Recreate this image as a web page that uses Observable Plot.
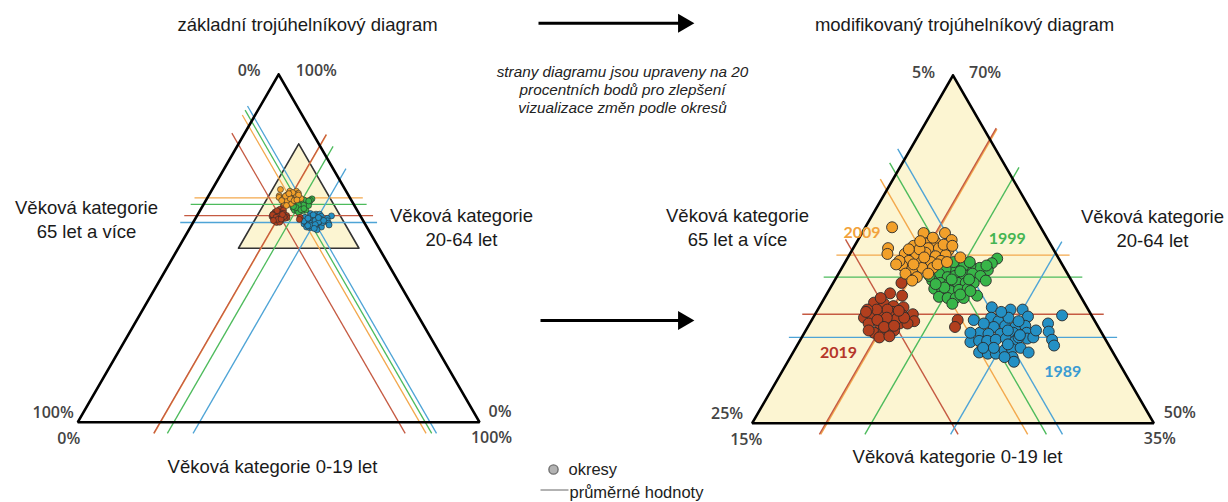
<!DOCTYPE html>
<html>
<head>
<meta charset="utf-8">
<script src="https://cdn.jsdelivr.net/npm/d3@7"></script>
<script src="https://cdn.jsdelivr.net/npm/@observablehq/plot@0.6"></script>
<style>
  html, body { margin: 0; padding: 0; background: #fff; }
  #chart { width: 1228px; height: 502px; }
</style>
</head>
<body>
<div id="chart"></div>
<script>
// ---------- DATA (percent of population: [0-19 let, 20-64 let]; 65+ = 100 - both) ----------
const years = ["1989", "1999", "2009", "2019"];
const okresy1989 = [[27.9,60.0],[29.4,59.8],[30.3,59.8],[31.0,59.2],[33.5,59.3],[32.8,58.6],[33.2,57.9],[33.8,57.2],[34.2,56.7],[27.1,58.9],[28.3,59.1],[29.0,58.8],[29.7,58.4],[30.5,58.3],[31.2,58.4],[28.9,58.3],[28.1,57.8],[28.8,57.7],[29.7,57.7],[30.6,57.8],[31.6,57.8],[27.8,57.0],[28.4,57.1],[29.0,57.1],[29.6,57.2],[30.3,57.3],[31.1,57.1],[31.9,57.3],[28.9,56.1],[29.6,56.0],[30.2,56.0],[30.7,56.3],[31.2,56.4],[31.8,56.5],[32.6,56.1],[31.6,55.7],[31.9,55.3],[29.8,56.5],[32.3,57.4],[27.4,57.8],[29.6,59.1],[31.2,57.4],[28.8,59.6],[28.0,58.6],[30.1,58.0],[31.2,57.6],[30.7,56.8],[29.0,56.5],[32.2,58.0],[31.0,55.7],[30.5,58.8]];
const okresy1999 = [[26.2,64.2],[26.0,63.8],[26.0,63.2],[25.3,63.4],[24.5,63.6],[24.0,63.5],[23.4,63.4],[22.8,63.3],[22.5,62.9],[23.3,62.6],[23.8,62.7],[24.4,62.8],[25.0,62.9],[25.7,62.7],[22.3,62.3],[23.0,62.1],[23.7,62.0],[24.3,62.1],[24.9,62.1],[25.5,62.1],[22.8,61.6],[23.5,61.4],[24.1,61.4],[24.7,61.5],[25.3,61.6],[26.3,61.0],[23.5,60.9],[24.2,60.8],[24.8,60.8],[25.4,60.8],[24.8,60.3],[24.3,63.9],[21.9,62.7],[26.3,62.3],[24.0,63.1],[25.0,62.4],[23.7,62.4],[23.5,61.7],[25.0,61.1],[25.6,61.4],[22.7,62.0],[25.7,63.6],[23.1,63.9]];
const okresy2009 = [[17.0,66.9],[17.6,65.1],[17.8,64.6],[19.6,66.4],[21.2,66.4],[22.0,65.8],[20.8,65.7],[20.2,65.5],[19.4,65.3],[20.6,65.1],[21.4,65.1],[22.2,64.9],[19.1,64.6],[20.0,64.5],[20.6,64.7],[21.5,64.4],[22.2,64.5],[23.4,64.3],[19.7,64.0],[20.7,63.9],[21.4,63.9],[22.1,64.0],[19.4,63.6],[20.3,63.3],[21.0,63.4],[21.8,63.4],[20.0,62.9],[21.0,62.6],[21.7,62.9],[20.0,65.0],[19.0,64.0],[21.6,65.4],[20.2,63.7],[20.7,64.3],[20.5,66.0],[19.2,65.0],[22.3,65.3],[18.9,63.7],[22.0,63.7],[20.8,62.3],[22.6,63.9],[19.7,65.7]];
const okresy2019 = [[20.1,62.1],[19.7,61.2],[20.7,61.0],[18.9,60.4],[19.7,60.3],[20.5,60.1],[21.3,60.0],[22.3,59.4],[22.7,58.8],[18.8,59.1],[19.3,59.3],[20.0,59.4],[20.7,59.6],[21.6,59.3],[19.4,58.6],[20.2,58.6],[20.9,58.7],[21.7,58.6],[22.3,58.6],[20.2,57.8],[20.9,57.8],[21.6,58.0],[20.8,57.4],[21.5,57.5],[25.9,58.9],[26.0,58.3],[20.2,59.8],[19.4,59.8],[21.3,59.0],[18.7,59.8],[19.2,60.8],[18.7,59.6],[20.5,59.1],[19.9,58.9],[21.8,59.1],[20.7,58.3],[21.4,58.4],[19.7,58.0],[21.1,59.7]];
// average values (průměrné hodnoty)
const meanChildren = [30.3, 23.9, 20.6, 20.5];
const meanWorking  = [57.4, 62.6, 64.5, 59.4];
// year label anchor points (in the same percent space)
const labelChildren = [36.0, 26.1, 15.0, 18.4];
const labelWorking  = [54.4, 65.9, 66.4, 56.1];
// corner tick labels
const basicTicks    = ["0%", "100%", "100%", "0%", "0%", "100%"];
const modifiedTicks = ["5%", "70%", "25%", "15%", "50%", "35%"];

// ---------- STYLE / LAYOUT ----------
const dotFill   = {"1989": "#2490c4", "1999": "#38b548", "2009": "#f2a02a", "2019": "#b13f1e"};
const lineColor = {"1989": "#4ea4d6", "1999": "#4dbb5c", "2009": "#f3a84c", "2019": "#c55a42"};
const textColor = {"1989": "#3a9bd2", "1999": "#45b552", "2009": "#f2a23c", "2019": "#b5362a"};
const W = 1228, H = 502;
const triBasic = {x0: 77.3, y0: 421.7, side: 401.7, cMin: 0, wMin: 0, eMin: 0, range: 100, r: 3};
const triMod   = {x0: 751.7, y0: 422.7, side: 401.6, cMin: 15, wMin: 50, eMin: 5, range: 30, r: 5.5};
const SQ = Math.sqrt(3) / 2;

function proj(t, c, w) {
  const cp = (c - t.cMin) / t.range, wp = (w - t.wMin) / t.range;
  return {x: t.x0 + t.side * (cp + wp / 2), y: t.y0 - t.side * SQ * wp};
}
function triVerts(t) {
  const top = t.wMin + t.range, eMax = t.eMin + t.range, cMax = t.cMin + t.range;
  return [proj(t, t.cMin, top), proj(t, t.cMin, 100 - t.cMin - eMax), proj(t, cMax, 100 - cMax - t.eMin), proj(t, t.cMin, top)];
}
// mean lines: constant working, constant elderly, constant children; extended slightly past the edges
function meanLines(t, i) {
  const ext = 0.032 * t.range;
  const c = meanChildren[i], w = meanWorking[i], e = 100 - c - w;
  const segs = [];
  segs.push([proj(t, t.cMin - ext, w), proj(t, 100 - w - (t.eMin - ext), w)]);
  { const c1 = t.cMin - ext, w1 = 100 - e - c1; const w2 = t.wMin - ext, c2 = 100 - e - w2;
    segs.push([proj(t, c1, w1), proj(t, c2, w2)]); }
  { const w1 = t.wMin - ext; const e2 = t.eMin - ext, w2 = 100 - c - e2;
    segs.push([proj(t, c, w1), proj(t, c, w2)]); }
  return segs.map(([a, b]) => ({x1: a.x, y1: a.y, x2: b.x, y2: b.y}));
}
const okresy = {"1989": okresy1989, "1999": okresy1999, "2009": okresy2009, "2019": okresy2019};
const drawOrder = ["1989", "1999", "2019", "2009"];
const lineOrder = ["2009", "2019", "1999", "1989"];

const marks = [];
marks.push(Plot.line(triVerts(triMod), {x: "x", y: "y", fill: "#fcf5d2", stroke: "none"}));
const innerVerts = (() => { const t = triBasic; return [proj(t, 15, 80), proj(t, 15, 50), proj(t, 45, 50), proj(t, 15, 80)]; })();
marks.push(Plot.line(innerVerts, {x: "x", y: "y", fill: "#fcf5d2", stroke: "#333", strokeWidth: 1.6}));

for (const t of [triBasic, triMod]) {
  for (const y of lineOrder) {
    const i = years.indexOf(y);
    marks.push(Plot.link(meanLines(t, i), {x1: "x1", y1: "y1", x2: "x2", y2: "y2", stroke: lineColor[y], strokeWidth: t === triMod ? 1.4 : 1.3}));
  }
  for (const y of drawOrder) {
    const pts = okresy[y].map(([c, w]) => proj(t, c, w));
    marks.push(Plot.dot(pts, {x: "x", y: "y", r: t.r, fill: dotFill[y], stroke: "#2a2a2a", strokeWidth: t === triMod ? 0.9 : 0.6}));
  }
  marks.push(Plot.line(triVerts(t), {x: "x", y: "y", stroke: "#000", strokeWidth: 2.6, strokeLinejoin: "miter"}));
}
// year labels
marks.push(Plot.text(years.map((y, i) => ({...proj(triMod, labelChildren[i], labelWorking[i]), y0: y})),
  {x: "x", y: "y", text: "y0", fill: d => textColor[d.y0], fontSize: 16, fontWeight: "bold", fontFamily: "Lato, 'Open Sans', sans-serif"}));

// corner tick labels
function cornerLabels(t, labels, off) {
  const v = triVerts(t);
  const apex = v[0], bl = v[1], br = v[2];
  return [
    {x: apex.x - off.apexL, y: apex.y - 3, text: labels[0], anchor: "end"},
    {x: apex.x + off.apexR, y: apex.y - 3, text: labels[1], anchor: "start"},
    {x: bl.x - off.blU, y: bl.y - 9, text: labels[2], anchor: "end"},
    {x: bl.x - off.blL, y: bl.y + 17, text: labels[3], anchor: "middle"},
    {x: br.x + off.brU, y: br.y - 10, text: labels[4], anchor: "start"},
    {x: br.x + off.brL, y: br.y + 16, text: labels[5], anchor: "middle"}
  ];
}
const corners = [
  ...cornerLabels(triBasic, basicTicks, {apexL: 18, apexR: 17, blU: 4, blL: 9, brU: 9, brL: 12}),
  ...cornerLabels(triMod, modifiedTicks, {apexL: 18, apexR: 16, blU: 9, blL: 6, brU: 10, brL: 6})
];
for (const a of ["start", "middle", "end"]) {
  marks.push(Plot.text(corners.filter(d => d.anchor === a), {x: "x", y: "y", text: "text", textAnchor: a,
    fontSize: 16, fontWeight: 600, fill: "#444", fontFamily: "'Open Sans', sans-serif"}));
}

// titles and axis labels
const headings = [
  {x: 307, y: 23, text: "základní trojúhelníkový diagram"},
  {x: 964, y: 23, text: "modifikovaný trojúhelníkový diagram"},
  {x: 86, y: 218, text: "Věková kategorie\n65 let a více"},
  {x: 461, y: 226, text: "Věková kategorie\n20-64 let"},
  {x: 272, y: 465, text: "Věková kategorie 0-19 let"},
  {x: 737, y: 226, text: "Věková kategorie\n65 let a více"},
  {x: 1152, y: 227, text: "Věková kategorie\n20-64 let"},
  {x: 957, y: 455, text: "Věková kategorie 0-19 let"}
];
marks.push(Plot.text(headings, {x: "x", y: "y", text: "text", fontSize: 18.5, lineHeight: 1.27, fill: "#1a1a1a",
  fontFamily: "'Liberation Sans', Arial, sans-serif"}));
marks.push(Plot.text([{x: 622, y: 89, text: "strany diagramu jsou upraveny na 20\nprocentních bodů pro zlepšení\nvizualizace změn podle okresů"}],
  {x: "x", y: "y", text: "text", fontSize: 15.3, lineHeight: 1.17, fontStyle: "italic", fill: "#222",
   fontFamily: "'Liberation Sans', Arial, sans-serif"}));

// arrows
const arrows = [{x1: 538, x2: 682, y: 22.7}, {x1: 540, x2: 682, y: 320}];
marks.push(Plot.link(arrows, {x1: "x1", x2: "x2", y1: "y", y2: "y", stroke: "#000", strokeWidth: 3}));
marks.push(Plot.dot(arrows, {x: d => d.x2 + 1, y: "y", symbol: "triangle", rotate: 90, r: 7, fill: "#000", stroke: "none"}));

// legend
marks.push(Plot.dot([{x: 553, y: 469}], {x: "x", y: "y", r: 4.6, fill: "#b3b3b3", stroke: "#6f6f6f", strokeWidth: 1.4}));
marks.push(Plot.link([{x1: 540, x2: 568, y: 489.5}], {x1: "x1", x2: "x2", y1: "y", y2: "y", stroke: "#888", strokeWidth: 1.3}));
marks.push(Plot.text([{x: 568, y: 469, t: "okresy"}, {x: 569, y: 492, t: "průměrné hodnoty"}],
  {x: "x", y: "y", text: "t", textAnchor: "start", fontSize: 16.5, fill: "#222", fontFamily: "'Liberation Sans', Arial, sans-serif"}));

const chart = Plot.plot({
  width: W, height: H, margin: 0,
  x: {domain: [0, W], axis: null},
  y: {domain: [0, H], reverse: true, axis: null},
  style: {background: "#fff"},
  marks
});
document.getElementById("chart").appendChild(chart);
</script>
</body>
</html>
